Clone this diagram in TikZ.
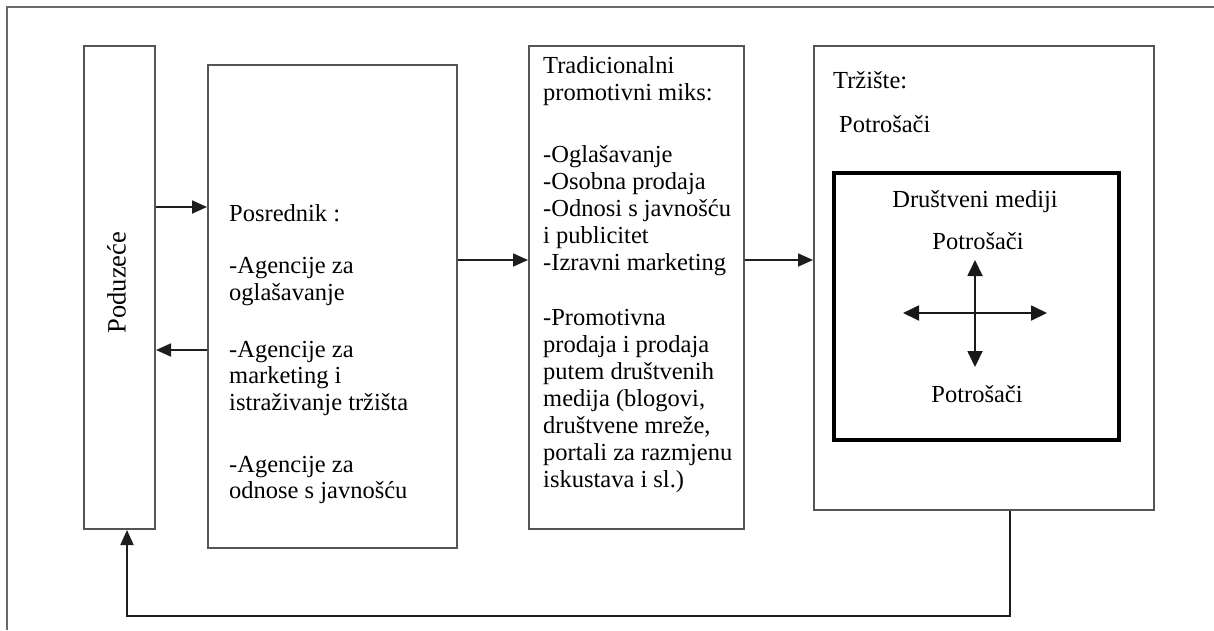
\documentclass[tikz,border=0pt]{standalone}
\usepackage{fontspec}
\setmainfont{Liberation Serif}
\usetikzlibrary{arrows.meta}
\definecolor{boxgray}{RGB}{85,85,85}
\definecolor{framegray}{RGB}{105,105,105}
\definecolor{arrowgray}{RGB}{30,30,30}
\begin{document}
\begin{tikzpicture}[x=1pt,y=-1pt,
  box/.style={draw=boxgray,line width=2pt,inner sep=0pt,anchor=north west},
  txt/.style={inner sep=0pt,anchor=base west,font=\fontsize{24.5}{27}\selectfont,text=black},
  ctxt/.style={inner sep=0pt,anchor=base,font=\fontsize{24.5}{27}\selectfont,text=black},
  arr/.style={draw=arrowgray,line width=1.8pt,-{Triangle[length=15pt,width=13pt]}},
  xarr/.style={draw=black!90,line width=1.8pt,{Triangle[length=16pt,width=15pt]}-{Triangle[length=16pt,width=15pt]}},
  frame/.style={draw=framegray,line width=1.4pt}
]
\fill[white] (0,0) rectangle (1214,630);
\useasboundingbox (0,0) rectangle (1214,630);

% outer frame (only top and left visible)
\draw[frame] (7,630) -- (7,7) -- (1214,7);

% boxes
\node[box,minimum width=71pt,minimum height=483pt] (pod) at (83,45) {};
\node[box,minimum width=249pt,minimum height=483pt] (pos) at (207,64) {};
\node[box,minimum width=215pt,minimum height=483pt] (trad) at (528,45) {};
\node[box,minimum width=340pt,minimum height=464pt] (trz) at (813,45) {};
\node[draw=black,line width=3.5pt,inner sep=0pt,anchor=north west,minimum width=285pt,minimum height=267pt] (dm) at (832,171) {};

% Poduzece label
\node[rotate=90,inner sep=0pt,font=\fontsize{26.5}{30}\selectfont,text=black] (podt) at ([xshift=-3pt,yshift=5pt]pod.center) {Poduzeće};

% Posrednik text
\foreach \t/\yy [count=\i] in {{Posrednik :}/221,{-Agencije za}/273,{oglašavanje}/300,{-Agencije za}/357,{marketing i}/383,{istraživanje tržišta}/410,{-Agencije za}/472,{odnose s javnošću}/498}
  \node[txt] (pos\i) at (229,\yy) {\t};

% Tradicionalni text
\foreach \t/\yy [count=\i] in {{Tradicionalni}/73,{promotivni miks:}/100,{-Oglašavanje}/162,{-Osobna prodaja}/189,{-Odnosi s javnošću}/216,{i publicitet}/243,{-Izravni marketing}/270,{-Promotivna}/325,{prodaja i prodaja}/352,{putem društvenih}/379,{medija (blogovi,}/406,{društvene mreže,}/433,{portali za razmjenu}/460,{iskustava i sl.)}/487}
  \node[txt] (trad\i) at (543,\yy) {\t};

% Trziste text
\node[txt] (trzt) at (833,88) {Tržište:};
\node[txt] (trzp) at (839,132) {Potrošači};
\node[ctxt] (dmt) at (975,207) {Društveni mediji};
\node[ctxt] (dmp1) at (978,249) {Potrošači};
\node[ctxt] (dmp2) at (977,402) {Potrošači};

% helper coordinates for connector heights
\coordinate (h1) at (0,207);
\coordinate (h2) at (0,350);
\coordinate (h3) at (0,260);
\coordinate (fb1) at (1010,616);
\coordinate (fb2) at (127,616);

% connectors
\draw[arr] (pod.east |- h1) -- (pos.west |- h1);
\draw[arr] (pos.west |- h2) -- (pod.east |- h2);
\draw[arr] (pos.east |- h3) -- (trad.west |- h3);
\draw[arr] (trad.east |- h3) -- (trz.west |- h3);
\draw[arr] (trz.south -| fb1) -- (fb1) -- (fb2) -- (pod.south -| fb2);

% cross arrows in Drustveni mediji
\coordinate (cl) at (903,313);
\coordinate (cr) at (1047,313);
\coordinate (ct) at (975,260);
\coordinate (cb) at (975,367);
\draw[xarr] (cl) -- (cr);
\draw[xarr] (ct) -- (cb);
\end{tikzpicture}
\end{document}
